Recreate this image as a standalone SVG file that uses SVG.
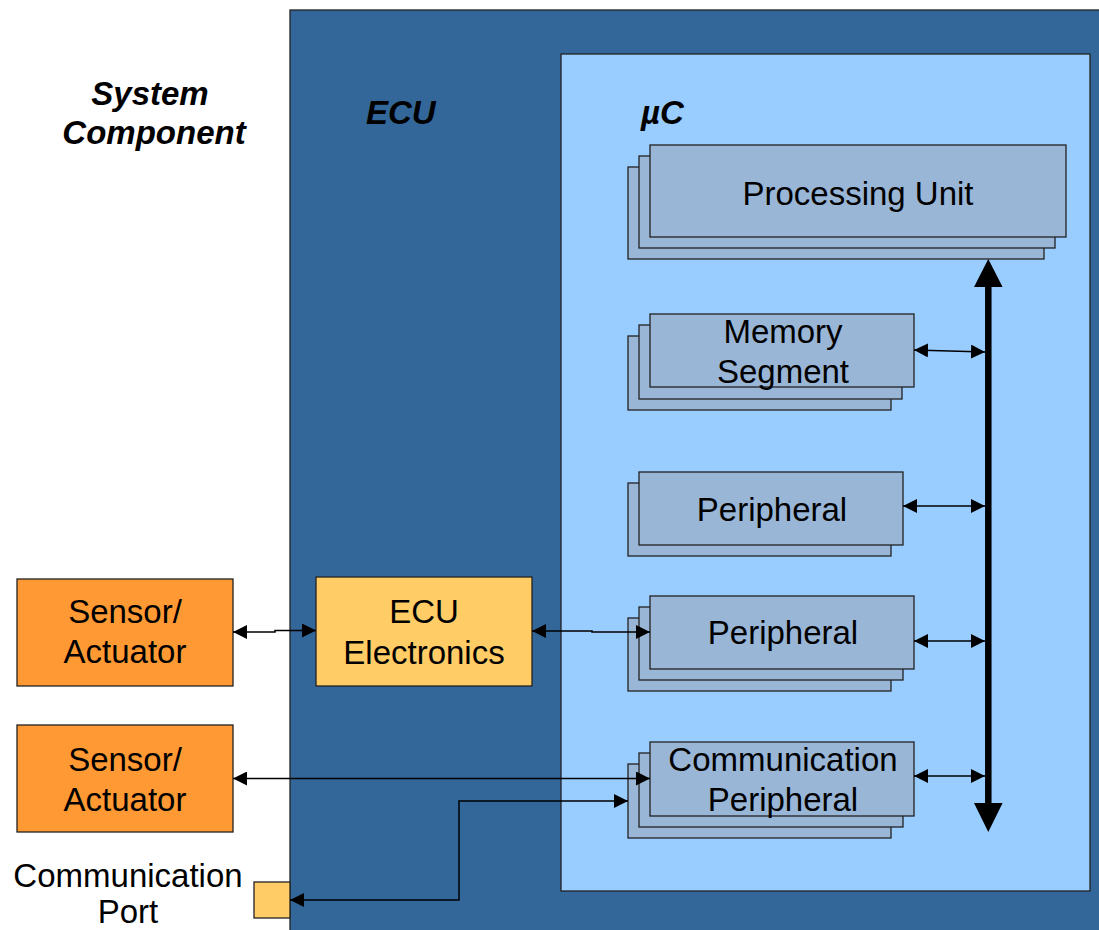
<svg xmlns="http://www.w3.org/2000/svg" width="1099" height="930" viewBox="0 0 1099 930">
<style>
text{font-family:"Liberation Sans",Arial,sans-serif;font-size:33px;fill:#000}
.title{font-weight:bold;font-style:italic}
.box{fill:#99b6d7;stroke:#222;stroke-width:1.3}
.sens{fill:#ff9933;stroke:#222;stroke-width:1.3}
.yel{fill:#ffcc66;stroke:#222;stroke-width:1.3}
.con{fill:none;stroke:#000;stroke-width:1.5}
</style>
<defs>
<marker id="ah" viewBox="0 0 14 14" refX="14" refY="7" markerWidth="14" markerHeight="14" markerUnits="userSpaceOnUse" orient="auto-start-reverse">
<path d="M0,0 L14,7 L0,14 Z" fill="#000"/>
</marker>
</defs>
<rect width="1099" height="930" fill="#fff"/>
<g id="system-component">
<text class="title" x="150" y="105" text-anchor="middle">System</text>
<text class="title" x="154" y="144" text-anchor="middle">Component</text>
</g>
<g id="ecu">
<rect x="290" y="10" width="820" height="930" fill="#336699" stroke="#222" stroke-width="1.3"/>
<text class="title" x="366" y="124">ECU</text>
</g>
<g id="uc">
<rect x="561" y="54" width="529" height="837" fill="#99ccff" stroke="#222" stroke-width="1.3"/>
<text class="title" x="641" y="124">µC</text>
</g>
<g id="processing-unit">
<rect class="box" x="628" y="167" width="416" height="92"/>
<rect class="box" x="639" y="156" width="416" height="92"/>
<rect class="box" x="650" y="145" width="416" height="92"/>
<text x="858" y="205" text-anchor="middle">Processing Unit</text>
</g>
<g id="memory-segment">
<rect class="box" x="628" y="336" width="263" height="74"/>
<rect class="box" x="639" y="325" width="263" height="74"/>
<rect class="box" x="650" y="314" width="264" height="73"/>
<text x="783" y="343" text-anchor="middle">Memory</text>
<text x="783" y="383" text-anchor="middle">Segment</text>
</g>
<g id="peripheral-1">
<rect class="box" x="628" y="483" width="263" height="73"/>
<rect class="box" x="639" y="472" width="264" height="73"/>
<text x="772" y="521" text-anchor="middle">Peripheral</text>
</g>
<g id="peripheral-2">
<rect class="box" x="628" y="618" width="263" height="73"/>
<rect class="box" x="639" y="607" width="264" height="73"/>
<rect class="box" x="650" y="596" width="264" height="73"/>
<text x="783" y="644" text-anchor="middle">Peripheral</text>
</g>
<g id="communication-peripheral">
<rect class="box" x="628" y="764" width="263" height="74"/>
<rect class="box" x="639" y="753" width="264" height="74"/>
<rect class="box" x="650" y="742" width="264" height="74"/>
<text x="783" y="771" text-anchor="middle">Communication</text>
<text x="783" y="811" text-anchor="middle">Peripheral</text>
</g>
<g id="ecu-electronics">
<rect class="yel" x="316" y="577" width="216" height="109"/>
<text x="424" y="623" text-anchor="middle">ECU</text>
<text x="424" y="664" text-anchor="middle">Electronics</text>
</g>
<g id="sensor-actuator-1">
<rect class="sens" x="17" y="579" width="216" height="107"/>
<text x="125" y="623" text-anchor="middle">Sensor/</text>
<text x="125" y="663" text-anchor="middle">Actuator</text>
</g>
<g id="sensor-actuator-2">
<rect class="sens" x="17" y="725" width="216" height="107"/>
<text x="125" y="771" text-anchor="middle">Sensor/</text>
<text x="125" y="811" text-anchor="middle">Actuator</text>
</g>
<g id="communication-port">
<rect class="yel" x="254" y="882" width="36" height="36"/>
<text x="128" y="887" text-anchor="middle">Communication</text>
<text x="128" y="923" text-anchor="middle">Port</text>
</g>
<g id="connectors">
<path d="M988.3,284 V806" stroke="#000" stroke-width="6.5" fill="none"/>
<polygon points="988.3,259 974,287 1002.6,287" fill="#000"/>
<polygon points="988.3,832 974,803 1002.6,803" fill="#000"/>
<path class="con" d="M914,350 L985,352" marker-start="url(#ah)" marker-end="url(#ah)"/>
<path class="con" d="M903,506 H985" marker-start="url(#ah)" marker-end="url(#ah)"/>
<path class="con" d="M914,641 H985" marker-start="url(#ah)" marker-end="url(#ah)"/>
<path class="con" d="M914,776 H985" marker-start="url(#ah)" marker-end="url(#ah)"/>
<path class="con" d="M233,632 H275 V630.5 H316" marker-start="url(#ah)" marker-end="url(#ah)"/>
<path class="con" d="M532,631 H592 V632 H650" marker-start="url(#ah)" marker-end="url(#ah)"/>
<path class="con" d="M233,778.5 H650" marker-start="url(#ah)" marker-end="url(#ah)"/>
<path class="con" d="M290,900 H459 V801 H628" marker-start="url(#ah)" marker-end="url(#ah)"/>
</g>
</svg>
